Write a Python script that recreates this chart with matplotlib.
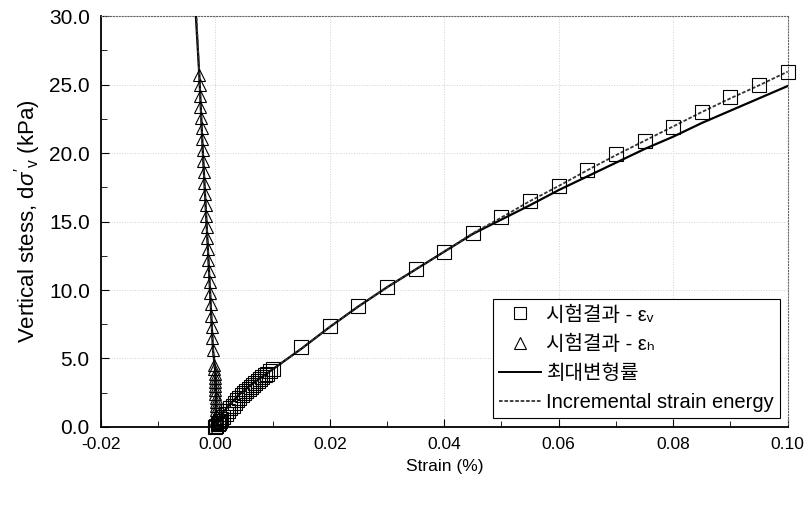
import matplotlib
matplotlib.use("Agg")
import matplotlib.pyplot as plt
from matplotlib.ticker import MultipleLocator, FormatStrFormatter
from matplotlib.lines import Line2D

plt.rcParams['font.family'] = ['Liberation Sans', 'Noto Sans CJK KR', 'DejaVu Sans']
plt.rcParams['mathtext.fontset'] = 'custom'
plt.rcParams['mathtext.rm'] = 'Liberation Sans'
plt.rcParams['mathtext.it'] = 'Liberation Sans:italic'

# ---- data ----
ev_x = [0.0, 0.0002, 0.0004, 0.0006, 0.0008, 0.001, 0.0014, 0.0018, 0.0022, 0.0026,
        0.003, 0.0034, 0.0038, 0.0042, 0.0046, 0.005, 0.0054, 0.0058, 0.0062, 0.0066,
        0.007, 0.0074, 0.0078, 0.0082, 0.0086, 0.009, 0.0095, 0.01,
        0.015, 0.02, 0.025, 0.03, 0.035, 0.04, 0.045, 0.05, 0.055, 0.06, 0.065,
        0.07, 0.075, 0.08, 0.085, 0.09, 0.095, 0.10]
ev_y = [0.0, 0.1, 0.2, 0.3, 0.4, 0.55, 0.75, 0.95, 1.15, 1.35,
        1.55, 1.75, 1.95, 2.1, 2.3, 2.45, 2.6, 2.75, 2.9, 3.05,
        3.2, 3.35, 3.5, 3.65, 3.8, 3.9, 4.05, 4.2,
        5.8, 7.4, 8.8, 10.2, 11.5, 12.8, 14.2, 15.3, 16.5, 17.6, 18.8,
        19.9, 20.9, 21.9, 23.0, 24.1, 25.0, 25.9]

eh_x = [0.0003, 0.0003, 0.0002, 0.0002, 0.0002, 0.0001, 0.0001, 0.0001, 0.0,
        0.0, 0.0, -0.0001, -0.0001, -0.0001, -0.0002, -0.0002,
        -0.0004, -0.0005, -0.0006, -0.0007, -0.0008, -0.0009, -0.0010, -0.0011,
        -0.0012, -0.0013, -0.0014, -0.0015, -0.0016, -0.0017, -0.0018, -0.0019,
        -0.0020, -0.0021, -0.0022, -0.0023, -0.0024, -0.0025, -0.0026, -0.0026,
        -0.0027, -0.0028]
eh_y = [0.0, 0.3, 0.6, 0.9, 1.2, 1.5, 1.8, 2.1, 2.4,
        2.7, 3.0, 3.3, 3.6, 3.9, 4.2, 4.5,
        5.6, 6.5, 7.3, 8.1, 9.0, 9.8, 10.6, 11.4,
        12.2, 13.0, 13.8, 14.6, 15.4, 16.2, 17.0, 17.8,
        18.6, 19.4, 20.2, 21.0, 21.8, 22.6, 23.4, 24.2,
        25.0, 25.7]

# model lines (epsilon_v branch)
max_x = [0.0, 0.0005, 0.001, 0.002, 0.004, 0.006, 0.008, 0.01, 0.015, 0.02, 0.025,
         0.03, 0.035, 0.04, 0.045, 0.05, 0.055, 0.06, 0.065, 0.07, 0.075, 0.08,
         0.085, 0.09, 0.095, 0.10]
max_y = [0.0, 0.4, 0.8, 1.4, 2.3, 3.0, 3.6, 4.2, 5.7, 7.3, 8.8,
         10.2, 11.5, 12.8, 14.1, 15.15, 16.2, 17.3, 18.3, 19.3, 20.3, 21.2,
         22.2, 23.1, 24.0, 24.9]
inc_x = [0.0, 0.0005, 0.001, 0.002, 0.004, 0.006, 0.008, 0.01, 0.015, 0.02, 0.025,
         0.03, 0.035, 0.04, 0.045, 0.05, 0.055, 0.06, 0.065, 0.07, 0.075, 0.08,
         0.085, 0.09, 0.095, 0.10]
inc_y = [0.0, 0.4, 0.8, 1.4, 2.3, 3.0, 3.6, 4.2, 5.7, 7.3, 8.8,
         10.2, 11.5, 12.8, 14.15, 15.3, 16.5, 17.6, 18.75, 19.85, 20.9, 21.95,
         23.0, 24.0, 24.95, 25.95]
# model lines (epsilon_h branch)
maxh_x = [0.0, 0.0001, 0.0, -0.0004, -0.0013, -0.0022, -0.0028, -0.0034]
maxh_y = [0.0, 2.0, 4.0, 5.6, 13.0, 20.2, 25.7, 30.0]
inch_x = [0.0, 0.0001, 0.0, -0.0004, -0.0013, -0.0022, -0.0028, -0.0033]
inch_y = [0.0, 2.0, 4.0, 5.6, 13.0, 20.2, 25.7, 30.0]

labels = ['시험결과 - ε\u1d65', '시험결과 - ε\u2095',
          '최대변형률', 'Incremental strain energy']

fig = plt.figure(figsize=(8.07, 5.07), dpi=100)
ax = fig.add_axes([0.125, 0.158, 0.851, 0.810])

ax.plot(max_x, max_y, color='black', lw=1.6, zorder=3)
ax.plot(maxh_x, maxh_y, color='black', lw=1.6, zorder=3)
ax.plot(inc_x, inc_y, color='#333333', lw=1.3, ls=(0, (2, 1)), zorder=3)
ax.plot(inch_x, inch_y, color='#333333', lw=1.3, ls=(0, (2, 1)), zorder=3)

ax.plot(ev_x, ev_y, ls='none', marker='s', ms=9.5, mfc='none', mec='black', mew=0.8,
        clip_on=False, zorder=4)
ax.plot(eh_x, eh_y, ls='none', marker='^', ms=9, mfc='none', mec='black', mew=0.8,
        clip_on=False, zorder=4)

ax.set_xlim(-0.02, 0.10)
ax.set_ylim(0, 30)
ax.xaxis.set_major_locator(MultipleLocator(0.02))
ax.xaxis.set_minor_locator(MultipleLocator(0.01))
ax.yaxis.set_major_locator(MultipleLocator(5))
ax.yaxis.set_minor_locator(MultipleLocator(2.5))
ax.xaxis.set_major_formatter(FormatStrFormatter('%.2f'))
ax.yaxis.set_major_formatter(FormatStrFormatter('%.1f'))
ax.tick_params(which='both', direction='in', top=False, right=False)
ax.tick_params(axis='x', labelsize=12.5, pad=7)
ax.tick_params(axis='y', labelsize=15, pad=8)
ax.tick_params(which='major', length=6)
ax.tick_params(which='minor', length=4)

for s in ['top', 'right']:
    ax.spines[s].set_linestyle(':')
    ax.spines[s].set_color('#666666')
for s in ['left', 'bottom']:
    ax.spines[s].set_linewidth(1.3)

ax.grid(True, which='major', ls=':', color='#d0d0d0', lw=0.7)
ax.set_axisbelow(True)

ax.set_xlabel('Strain (%)', fontsize=12.5, labelpad=5)
ax.set_ylabel("Vertical stess, d$\\sigma'_\\mathregular{v}$ (kPa)", fontsize=16, labelpad=4)

handles = [
    Line2D([], [], ls='none', marker='s', ms=8, mfc='none', mec='black', mew=0.8),
    Line2D([], [], ls='none', marker='^', ms=8, mfc='none', mec='black', mew=0.8),
    Line2D([], [], color='black', lw=1.4),
    Line2D([], [], color='#333333', lw=1.3, ls=(0, (2, 1))),
]
leg = ax.legend(handles, labels, loc='lower right', bbox_to_anchor=(0.995, 0.012),
                prop={'family': ['Liberation Sans', 'Noto Sans CJK KR', 'DejaVu Sans'],
                      'size': 14.5},
                frameon=True, fancybox=False, edgecolor='black',
                framealpha=1, handlelength=2.1, handletextpad=0.25,
                borderpad=0.3, labelspacing=0.5, borderaxespad=0.2)
leg.get_frame().set_linewidth(0.8)

fig.savefig('out.png', dpi=100)
